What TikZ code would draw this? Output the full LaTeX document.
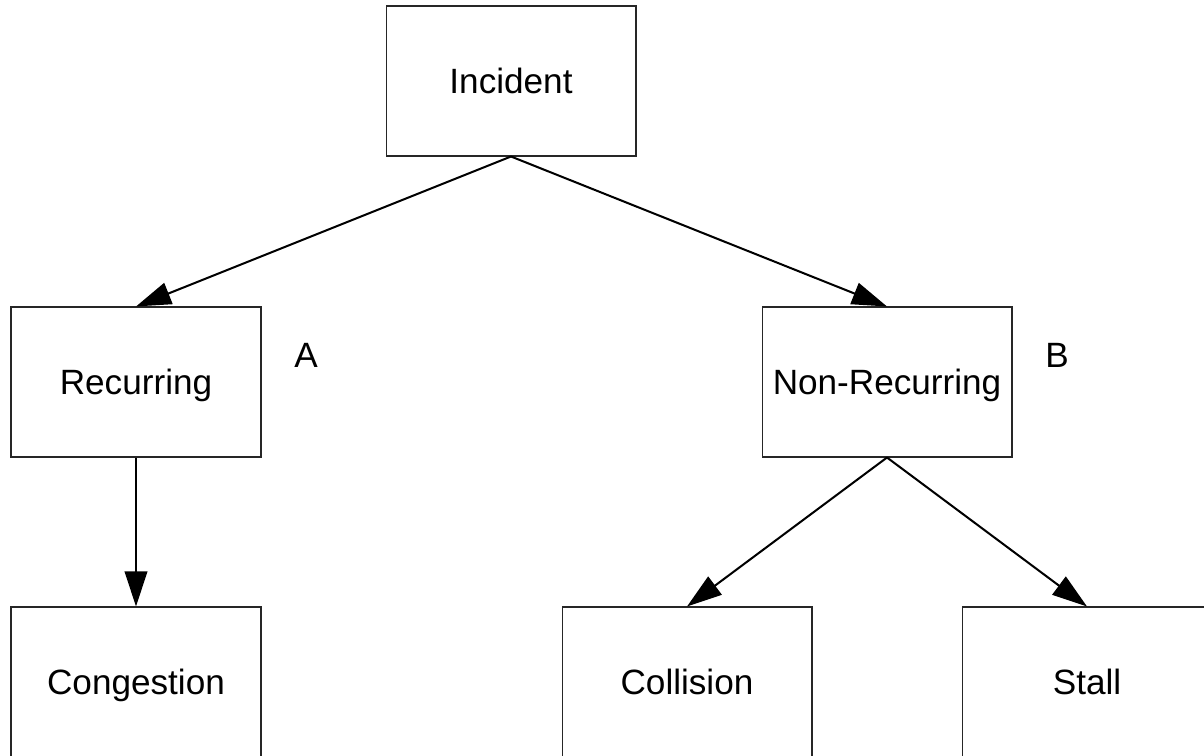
\documentclass[tikz,border=0pt]{standalone}
\usepackage{fontspec}
\setmainfont{Liberation Sans}
\usetikzlibrary{arrows.meta}
\begin{document}
\begin{tikzpicture}[x=0.02cm,y=-0.02cm,
  box/.style={draw=black!85,line width=0.6pt,rectangle,minimum width=5cm,minimum height=3cm,inner sep=0pt,text height=14.3pt,text depth=0pt,font=\fontsize{20}{24}\selectfont},
  lbl/.style={inner sep=0pt,text height=14.3pt,text depth=0pt,font=\fontsize{20}{24}\selectfont},
  conn/.style={line width=1.15pt,-{Triangle[length=0.7cm,width=0.45cm]}}]
\useasboundingbox (0,0) rectangle (1204,756);
\clip (0,0) rectangle (1204,756);
\fill[white] (0,0) rectangle (1204,756);
\node[box] (inc) at (511,81) {Incident};
\node[box] (rec) at (136,382) {Recurring};
\node[box] (non) at (887,382) {Non-Recurring};
\node[box] (con) at (136,682) {Congestion};
\node[box] (col) at (687,682) {Collision};
\node[box] (sta) at (1087,682) {Stall};
\node[lbl] (a) at (306,355) {A};
\node[lbl] (b) at (1057,355) {B};
\draw[conn] (inc.south) -- (rec.north);
\draw[conn] (inc.south) -- (non.north);
\draw[conn] (rec.south) -- (con.north);
\draw[conn] (non.south) -- (col.north);
\draw[conn] (non.south) -- (sta.north);
\end{tikzpicture}
\end{document}
